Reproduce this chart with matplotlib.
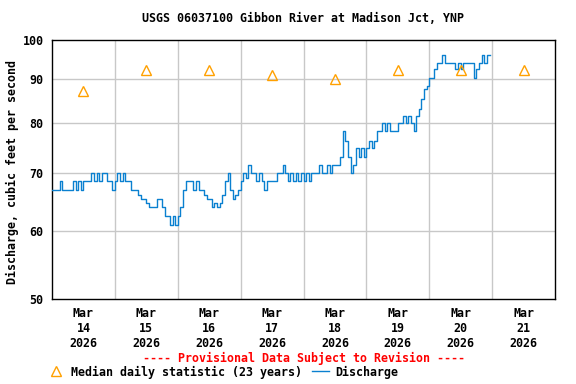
import matplotlib
matplotlib.use("Agg")
import matplotlib.pyplot as plt
from matplotlib.lines import Line2D
from matplotlib.ticker import NullLocator
import pandas as pd

title = "USGS 06037100 Gibbon River at Madison Jct, YNP"
y_label = "Discharge, cubic feet per second"

# hourly discharge, cfs, starting Mar 14 2026 00:00
flow = [
    67, 67, 67, 68.5, 67, 67, 67, 67, 68.5, 67, 68.5, 67,
    68.5, 68.5, 68.5, 70, 68.5, 70, 68.5, 70, 70, 68.5, 68.5, 67,
    68.5, 70, 68.5, 70, 68.5, 68.5, 67, 67, 67, 66.1, 65.3, 65.3,
    64.7, 63.9, 63.9, 63.9, 65.3, 65.3, 63.9, 62.4, 62.4, 61.0, 62.4, 61.0,
    62.4, 63.9, 67, 68.5, 68.5, 68.5, 67, 68.5, 67, 67, 66.1, 65.3,
    65.3, 63.9, 64.7, 63.9, 64.7, 66.1, 68.5, 70, 67, 65.3, 66.1, 67,
    68.5, 70, 69.2, 71.6, 70, 70, 68.5, 70, 68.5, 67, 68.5, 68.5,
    68.5, 68.5, 70, 70, 71.6, 70, 68.5, 70, 68.5, 70, 68.5, 70,
    68.5, 70, 68.5, 70, 70, 70, 71.6, 70, 70, 71.6, 70, 71.6,
    71.6, 71.6, 73.2, 78.3, 76.3, 73.2, 70, 71.6, 74.9, 73.2, 74.9, 73.2,
    74.9, 76.3, 74.9, 76.3, 78.3, 78.3, 80, 78.3, 80, 78.3, 78.3, 78.3,
    80, 80, 81.5, 80, 81.5, 80, 78.3, 81.5, 83.2, 85.3, 87.6, 88.4,
    90.3, 90.3, 92.6, 94, 94, 96, 94, 94, 94, 94, 92.6, 94,
    92.6, 94, 94, 94, 94, 90.3, 92.6, 94, 96, 94, 96, 96,
]

days = [14, 15, 16, 17, 18, 19, 20, 21]
median_flow = [87.3, 92.4, 92.4, 91.0, 90.2, 92.4, 92.4, 92.4]
y_ticks = [50, 60, 70, 80, 90, 100]

font = "DejaVu Sans Mono"
fs = 8.4

times = pd.date_range("2026-03-14 00:00", periods=len(flow), freq="h")
noon = [pd.Timestamp(2026, 3, d, 12) for d in days]
midnights = [pd.Timestamp(2026, 3, d) for d in days[1:]]
tick_labels = [f"Mar\n{d}\n2026" for d in days]

fig = plt.figure(figsize=(5.76, 3.84), dpi=100)
ax = fig.add_axes([52 / 576, 85 / 384, 503 / 576, 259 / 384])

ax.set_yscale("log")
ax.set_ylim(50, 100)
ax.set_xlim(pd.Timestamp(2026, 3, 14), pd.Timestamp(2026, 3, 22))

# сетка
for v in y_ticks[1:-1]:
    ax.axhline(v, color="#c8c8c8", lw=1, zorder=1)
for m in midnights:
    ax.axvline(m, color="#c8c8c8", lw=1, zorder=1)

ax.step(times, flow, where="post", color="#0a80d0", lw=1.0, zorder=3)
ax.plot(noon, median_flow, linestyle="none", marker="^", ms=7.5,
        mfc="none", mec="#ffa000", mew=1.0, zorder=4)

ax.yaxis.set_minor_locator(NullLocator())
ax.set_yticks(y_ticks)
ax.set_yticklabels([str(v) for v in y_ticks])
ax.set_xticks(noon)
ax.set_xticklabels(tick_labels)
ax.xaxis.set_minor_locator(NullLocator())
ax.tick_params(axis="both", length=0, labelsize=fs)
ax.tick_params(axis="y", pad=6)
ax.tick_params(axis="x", pad=6)
for lab in ax.get_xticklabels() + ax.get_yticklabels():
    lab.set_fontfamily(font)
    lab.set_fontweight("bold")

for s in ax.spines.values():
    s.set_linewidth(1)
    s.set_color("black")

fig.text(303 / 576, 1 - 19 / 384, title, ha="center", va="center",
         fontsize=fs, fontweight="bold", family=font)
fig.text(12 / 576, 1 - 172 / 384, y_label, ha="center", va="center",
         rotation=90, fontsize=fs, fontweight="bold", family=font)
fig.text(304 / 576, 1 - 358 / 384, "---- Provisional Data Subject to Revision ----",
         ha="center", va="center", color="red", fontsize=fs,
         fontweight="bold", family=font)

handles = [
    Line2D([], [], linestyle="none", marker="^", ms=7.5, mfc="none",
           mec="#ffa000", mew=1.0),
    Line2D([], [], color="#0a80d0", lw=1.0),
]
fig.legend(handles, ["Median daily statistic (23 years)", "Discharge"],
           loc="center left", bbox_to_anchor=(48 / 576, 1 - 372 / 384),
           ncol=2, frameon=False, borderpad=0, borderaxespad=0,
           handlelength=1.45, handletextpad=0.5, columnspacing=0.9,
           prop={"family": font, "weight": "bold", "size": fs})

fig.savefig("out.png", dpi=100)
plt.close(fig)
